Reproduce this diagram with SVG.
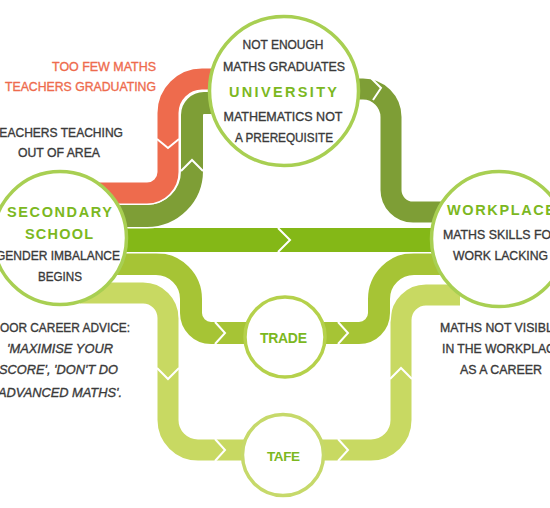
<svg xmlns="http://www.w3.org/2000/svg" xmlns:xlink="http://www.w3.org/1999/xlink" width="550" height="508" viewBox="0 0 550 508">
<style>
.chev{fill:none;stroke:#fff;stroke-width:2;stroke-linejoin:miter}
.node{fill:#fff;stroke-width:3.5}
.t{font-family:"Liberation Sans",Arial,sans-serif;font-size:13px;fill:#3a3a3a;stroke:#3a3a3a;stroke-width:0.35;text-anchor:middle}
.h{font-family:"Liberation Sans",Arial,sans-serif;font-size:14.5px;font-weight:bold;fill:#7cb81f;text-anchor:middle}
.red{fill:#ee6b4d;stroke:#ee6b4d}
.it{font-style:italic}
.end{text-anchor:end}
.st{text-anchor:start}
</style>
<defs>
<path id="p-light" fill="none" d="M 80 293 H 143 A 25 25 0 0 1 168 318 V 420 A 30 30 0 0 0 198 450 H 250"/>
<path id="p-light-r" fill="none" d="M 320 450 H 371 A 30 30 0 0 0 401 420 V 320 A 25 25 0 0 1 426 295 H 460"/>
<path id="p-med" fill="none" d="M 80 264 H 156 A 35 35 0 0 1 191 299 V 313 A 20 20 0 0 0 211 333 H 250"/>
<path id="p-med-r" fill="none" d="M 320 333 H 359 A 20 20 0 0 0 379 313 V 299 A 35 35 0 0 1 414 264 H 460"/>
<path id="p-main" fill="none" d="M 80 240 H 460"/>
<path id="p-olive" fill="none" d="M 80 216 H 147 A 45 45 0 0 0 192 171 V 115 A 12 12 0 0 1 204 103 H 230"/>
<path id="p-olive-r" fill="none" d="M 340 89 H 363 A 28 28 0 0 1 391 117 V 190 A 22 22 0 0 0 413 212 H 460"/>
<path id="p-red" fill="none" d="M 80 193 H 147 A 21 21 0 0 0 168 172 V 113 A 34 34 0 0 1 202 79 H 230"/>
</defs>

<g id="connectors">
  <g id="band-light">
    <use xlink:href="#p-light" stroke="#fff" stroke-width="24"/>
    <use xlink:href="#p-light" stroke="#c8d962" stroke-width="21"/>
    <use xlink:href="#p-light-r" stroke="#fff" stroke-width="24"/>
    <use xlink:href="#p-light-r" stroke="#c8d962" stroke-width="21"/>
    <polyline class="chev" points="157,368 168,379 179,368"/>
    <polyline class="chev" points="215,439 225,450 215,461"/>
    <polyline class="chev" points="338,439 348,450 338,461"/>
    <polyline class="chev" points="390,379 401,368 412,379"/>
  </g>
  <g id="band-medium">
    <use xlink:href="#p-med" stroke="#fff" stroke-width="25"/>
    <use xlink:href="#p-med" stroke="#a6c435" stroke-width="22"/>
    <use xlink:href="#p-med-r" stroke="#fff" stroke-width="25"/>
    <use xlink:href="#p-med-r" stroke="#a6c435" stroke-width="22"/>
    <polyline class="chev" points="215,322 225,333 215,344"/>
    <polyline class="chev" points="338,322 348,333 338,344"/>
  </g>
  <g id="band-main">
    <use xlink:href="#p-main" stroke="#fff" stroke-width="27"/>
    <use xlink:href="#p-main" stroke="#84b817" stroke-width="24"/>
    <polyline class="chev" points="278,228 290,240 278,252"/>
  </g>
  <g id="band-olive">
    <use xlink:href="#p-olive" stroke="#fff" stroke-width="25"/>
    <use xlink:href="#p-olive" stroke="#7e9e36" stroke-width="22"/>
    <use xlink:href="#p-olive-r" stroke="#fff" stroke-width="25"/>
    <use xlink:href="#p-olive-r" stroke="#7e9e36" stroke-width="21"/>
    <polyline class="chev" points="181,171 192,160 203,171"/>
    <polyline class="chev" points="371,78 381,88 373,100"/>
  </g>
  <g id="band-red">
    <use xlink:href="#p-red" stroke="#fff" stroke-width="24"/>
    <use xlink:href="#p-red" stroke="#ee6b4d" stroke-width="21"/>
    <polyline class="chev" points="157,139 168,148 179,139"/>
  </g>
</g>

<g id="university">
  <circle class="node" cx="284" cy="91" r="74.5" stroke="#a8cf52"/>
  <text class="t" x="283" y="49" textLength="81" lengthAdjust="spacingAndGlyphs">NOT ENOUGH</text>
  <text class="t" x="284" y="71" textLength="122" lengthAdjust="spacingAndGlyphs">MATHS GRADUATES</text>
  <text class="h" x="283" y="97" textLength="108">UNIVERSITY</text>
  <text class="t" x="283" y="121" textLength="119" lengthAdjust="spacingAndGlyphs">MATHEMATICS NOT</text>
  <text class="t" x="284" y="142" textLength="98" lengthAdjust="spacingAndGlyphs">A PREREQUISITE</text>
</g>

<g id="secondary-school">
  <circle class="node" cx="60" cy="238" r="66.5" stroke="#a8cf52"/>
  <text class="h" x="59.5" y="217" textLength="105">SECONDARY</text>
  <text class="h" x="59" y="239" textLength="68">SCHOOL</text>
  <text class="t end" x="120" y="260" textLength="124" lengthAdjust="spacingAndGlyphs">GENDER IMBALANCE</text>
  <text class="t" x="60" y="281" textLength="44" lengthAdjust="spacingAndGlyphs">BEGINS</text>
</g>

<g id="workplace">
  <circle class="node" cx="499" cy="239" r="67.5" stroke="#a8cf52"/>
  <text class="h st" x="447" y="215" textLength="108">WORKPLACE</text>
  <text class="t st" x="443" y="239" textLength="117" lengthAdjust="spacingAndGlyphs">MATHS SKILLS FOR</text>
  <text class="t" x="500.5" y="260" textLength="95" lengthAdjust="spacingAndGlyphs">WORK LACKING</text>
</g>

<g id="trade">
  <circle class="node" cx="285" cy="337" r="40" stroke="#b5d14b"/>
  <text class="h" x="283.5" y="343" style="font-size:14px" textLength="47">TRADE</text>
</g>

<g id="tafe">
  <circle class="node" cx="283" cy="455" r="40.5" stroke="#c6d96a"/>
  <text class="h" x="283.5" y="461" style="font-size:13.5px" textLength="33">TAFE</text>
</g>

<g id="notes">
  <text class="t end red" x="156" y="71" textLength="104" lengthAdjust="spacingAndGlyphs">TOO FEW MATHS</text>
  <text class="t end red" x="156" y="91" textLength="151" lengthAdjust="spacingAndGlyphs">TEACHERS GRADUATING</text>
  <text class="t end" x="123" y="137" textLength="131" lengthAdjust="spacingAndGlyphs">TEACHERS TEACHING</text>
  <text class="t" x="59" y="157" textLength="82" lengthAdjust="spacingAndGlyphs">OUT OF AREA</text>
  <text class="t end" x="130" y="332" textLength="138" lengthAdjust="spacingAndGlyphs">POOR CAREER ADVICE:</text>
  <text class="t it" x="60" y="353" textLength="106" lengthAdjust="spacingAndGlyphs">'MAXIMISE YOUR</text>
  <text class="t it end" x="118" y="374" textLength="119" lengthAdjust="spacingAndGlyphs">SCORE', 'DON'T DO</text>
  <text class="t it end" x="122" y="397" textLength="124" lengthAdjust="spacingAndGlyphs">ADVANCED MATHS'.</text>
  <text class="t st" x="440" y="332" textLength="121" lengthAdjust="spacingAndGlyphs">MATHS NOT VISIBLE</text>
  <text class="t st" x="442" y="353" textLength="121" lengthAdjust="spacingAndGlyphs">IN THE WORKPLACE</text>
  <text class="t" x="501" y="374" textLength="82" lengthAdjust="spacingAndGlyphs">AS A CAREER</text>
</g>
</svg>
